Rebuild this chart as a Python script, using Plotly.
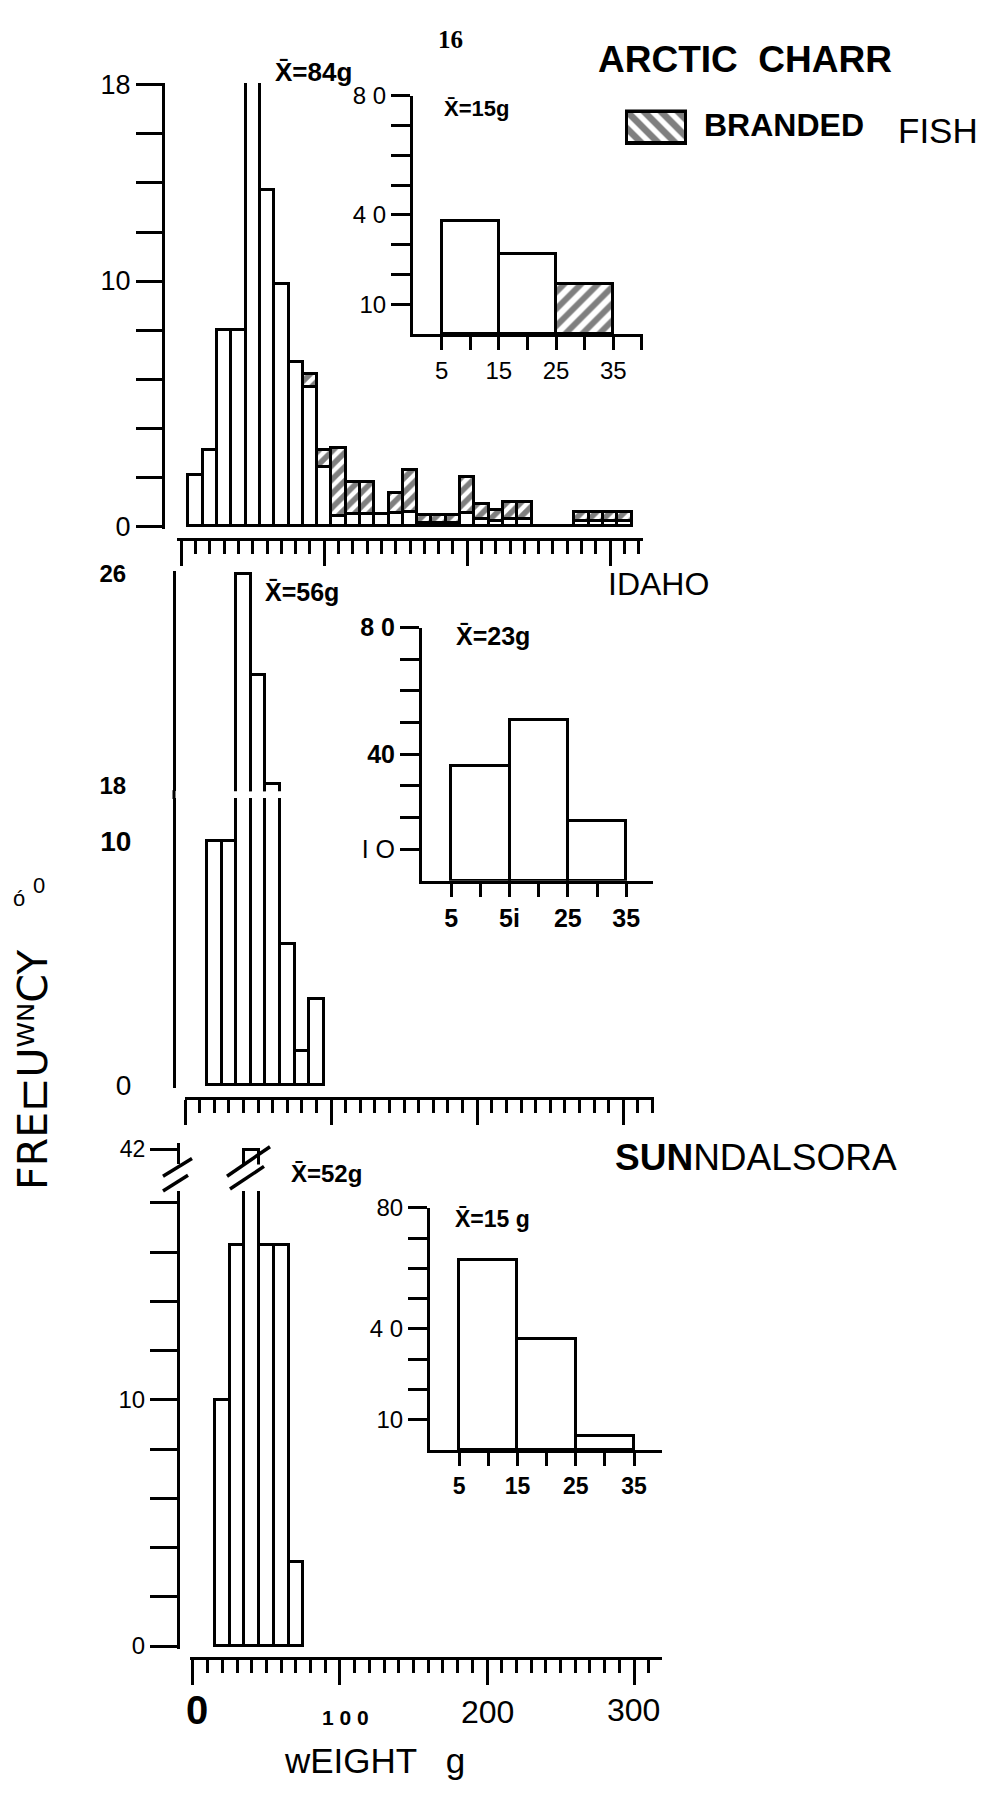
import plotly.graph_objects as go

W, H = 990, 1796


def fx(x):
    return x / W


def fy(y):
    return 1 - y / H


# ---------------- data ----------------
# Arctic charr main histogram (10 g classes, centres in g)
arctic_bins = [10, 20, 30, 40, 50, 60, 70, 80, 90, 100, 110, 120, 130, 140, 150, 160,
               170, 180, 190, 200, 210, 220, 230, 240, 250, 260, 270, 280, 290, 300, 310]
arctic_unbranded = [2.1, 3.1, 8.0, 8.0, 24.0, 13.7, 9.9, 6.7, 5.7, 2.4, 0.4, 0.5, 0.5, 0.5, 0.55, 0.6,
                    0.15, 0.15, 0.15, 0.55, 0.3, 0.2, 0.3, 0.3, 0, 0, 0, 0.2, 0.2, 0.2, 0.2]
arctic_branded = [0, 0, 0, 0, 0, 0, 0, 0, 0.5, 0.7, 2.8, 1.3, 1.3, 0, 0.8, 1.7,
                  0.3, 0.3, 0.3, 1.45, 0.6, 0.45, 0.7, 0.7, 0, 0, 0, 0.4, 0.4, 0.4, 0.4]
# Arctic charr inset (0+ fish, 10 g classes)
inset_bins = [10, 20, 30]
arctic_inset_unbranded = [38, 27, 0]
arctic_inset_branded = [0, 0, 17]

# Idaho
idaho_bins = [20, 30, 40, 50, 60, 70, 80, 90]
idaho_freq = [10, 10, 26, 22.2, 18.1, 5.8, 1.4, 3.5]
idaho_inset_freq = [36.5, 51, 19]

# Sunndalsora
sunn_bins = [20, 30, 40, 50, 60, 70]
sunn_freq = [10, 16.3, 42, 16.3, 16.3, 3.4]
sunn_inset_freq = [62.9, 36.6, 4.6]

# tick labels
main_y_vals = [0, 2, 4, 6, 8, 10, 12, 14, 16, 18]
arctic_y_text = ["0", "", "", "", "", "10", "", "", "", "18"]
sunn_y_text = ["0", "", "", "", "", "10", "", "", "", ""]
inset_y_vals = [10, 20, 30, 40, 50, 60, 70, 80]
inset_y_text = ["10", "", "", "4 0", "", "", "", "8 0"]
idaho_inset_y_text = ["I O", "", "", "<b>40</b>", "", "", "", "<b>8 0</b>"]
sunn_inset_y_text = ["10", "", "", "4 0", "", "", "", "80"]
inset_x_vals = [5, 10, 15, 20, 25, 30, 35, 40]
inset_x_text = ["5", "", "15", "", "25", "", "35", ""]
idaho_inset_x_text = ["<b>5</b>", "", "<b>5i</b>", "", "<b>25</b>", "", "<b>35</b>", ""]
sunn_inset_x_text = ["<b>5</b>", "", "<b>15</b>", "", "<b>25</b>", "", "<b>35</b>", ""]

FONT = "Liberation Sans, Arial, DejaVu Sans"
LINE = dict(color="black", width=2.7)
HATCH = dict(shape="/", fgcolor="black", bgcolor="white", size=10, solidity=0.55)


def bar(x, y, xa, ya, hatch=None, width=10):
    marker = dict(color="white", line=LINE)
    if hatch:
        marker["pattern"] = hatch
    return go.Bar(x=x, y=y, xaxis=xa, yaxis=ya, width=width, marker=marker,
                  hoverinfo="skip", showlegend=False)


fig = go.Figure()
# panel 1
fig.add_trace(bar(arctic_bins, arctic_unbranded, "x", "y"))
fig.add_trace(bar(arctic_bins, arctic_branded, "x", "y", hatch=HATCH))
fig.add_trace(bar(inset_bins, arctic_inset_unbranded, "x2", "y2"))
fig.add_trace(bar(inset_bins, arctic_inset_branded, "x2", "y2", hatch=dict(HATCH, size=12, solidity=0.5)))
# panel 2 (broken axis: lower and upper parts)
fig.add_trace(bar(idaho_bins, idaho_freq, "x3", "y3"))
fig.add_trace(bar(idaho_bins, idaho_freq, "x3", "y4"))
fig.add_trace(bar(inset_bins, idaho_inset_freq, "x5", "y5"))
# panel 3
fig.add_trace(bar(sunn_bins, sunn_freq, "x6", "y6"))
fig.add_trace(bar(sunn_bins, sunn_freq, "x6", "y7"))
fig.add_trace(bar(inset_bins, sunn_inset_freq, "x8", "y8"))
# legend swatch
fig.add_trace(go.Bar(x=[0], y=[1], xaxis="x9", yaxis="y9", width=1,
                     marker=dict(color="white", line=dict(color="black", width=3.5),
                                 pattern=dict(shape="\\", fgcolor="black", bgcolor="white",
                                              size=12, solidity=0.55)),
                     hoverinfo="skip", showlegend=False))

common = dict(showgrid=False, zeroline=False, fixedrange=True, showline=True,
              linecolor="black", linewidth=3, tickcolor="black", tickwidth=2.7)


def main_x(d0, d1, rng, pos):
    return dict(common, domain=[fx(d0), fx(d1)], range=rng, anchor="free", position=fy(pos),
                ticks="outside", tickmode="linear", tick0=0, dtick=100, ticklen=25,
                showticklabels=False,
                minor=dict(ticks="outside", tick0=0, dtick=10, ticklen=13, tickwidth=2.7,
                           tickcolor="black", showgrid=False))


def main_y(bot, top, rng, pos, vals, text, ticklen=24, size=26, tickcolor="black"):
    return dict(common, domain=[fy(bot), fy(top)], range=rng, anchor="free", position=fx(pos),
                ticks="outside", ticklen=ticklen, tickcolor=tickcolor, tickmode="array",
                tickvals=vals, ticktext=text, tickfont=dict(family=FONT, size=size, color="black"))


def inset_x(d0, d1, rng, anchor, text, size=24):
    return dict(common, domain=[fx(d0), fx(d1)], range=rng, anchor=anchor,
                ticks="outside", ticklen=13, tickmode="array", tickvals=inset_x_vals,
                ticktext=text, tickfont=dict(family=FONT, size=size, color="black"))


def inset_y(bot, top, anchor, text, size=24):
    return dict(common, domain=[fy(bot), fy(top)], range=[0, 80], anchor=anchor,
                ticks="outside", ticklen=19, tickmode="array", tickvals=inset_y_vals,
                ticktext=text, tickfont=dict(family=FONT, size=size, color="black"))


layout = dict(
    width=W, height=H, margin=dict(l=0, r=0, t=0, b=0, pad=0),
    paper_bgcolor="white", plot_bgcolor="rgba(0,0,0,0)",
    barmode="stack", bargap=0, showlegend=False,
    font=dict(family=FONT, color="black"),
    # panel 1
    xaxis=main_x(177, 643, [-3, 323], 533),
    yaxis=main_y(523, 70, [-0.12, 18.08], 163, main_y_vals, arctic_y_text, ticklen=26, size=27),
    xaxis2=inset_x(413, 643, [0, 40.2], "y2", inset_x_text),
    yaxis2=inset_y(325, 83, "x2", inset_y_text),
    # panel 2
    xaxis3=main_x(185, 654, [0, 321], 1101),
    yaxis3=main_y(1090, 796, [-0.12, 11.78], 174, [0, 10], ["0", "<b>10</b>"],
                  ticklen=36, size=28, tickcolor="rgba(0,0,0,0)"),
    yaxis4=main_y(789, 565, [17.8, 26.13], 174, [18, 26], ["<b>18</b>", "<b>26</b>"],
                  ticklen=42, size=24, tickcolor="rgba(0,0,0,0)"),
    xaxis5=inset_x(422, 653, [0, 39.6], "y5", idaho_inset_x_text, size=25),
    yaxis5=inset_y(880, 623, "x5", idaho_inset_y_text, size=25),
    # panel 3
    xaxis6=main_x(190, 662, [-2, 319], 1669),
    yaxis6=main_y(1660, 1195, [-0.12, 18.48], 178, main_y_vals, sunn_y_text, ticklen=27, size=24),
    yaxis7=main_y(1168, 1146, [41.3, 42.3], 178, [42], ["42"], ticklen=27, size=23),
    xaxis8=inset_x(430, 662, [0, 39.8], "y8", sunn_inset_x_text, size=23),
    yaxis8=inset_y(1458, 1212, "x8", sunn_inset_y_text, size=24),
    # legend swatch
    xaxis9=dict(domain=[fx(625), fx(688)], range=[-0.53, 0.53], visible=False, fixedrange=True),
    yaxis9=dict(domain=[fy(133), fy(97)], range=[-0.05, 1.05], visible=False, fixedrange=True),
)
fig.update_layout(**layout)


# ---------- text ----------
def ann(text, x, y, size, family=FONT, angle=0, xanchor="center"):
    fig.add_annotation(text=text, x=fx(x), y=fy(y), xref="paper", yref="paper",
                       showarrow=False, textangle=angle, xanchor=xanchor, yanchor="middle",
                       font=dict(family=family, size=size, color="black"))


XBAR = "X\u0304"
ann("<b>16</b>", 450, 26, 25, family="Liberation Serif, DejaVu Serif")
ann("<b>ARCTIC  CHARR</b>", 745, 46, 37)
ann("<b>BRANDED</b>", 784, 113, 32)
ann("FISH", 938, 118, 35)
ann("IDAHO", 658, 579, 32)
ann("<b>SUN</b>NDALSORA", 756, 1161, 37)

ann("<b>" + XBAR + "=84g</b>", 313, 59, 26)
ann("<b>" + XBAR + "=15g</b>", 476, 96, 22)
ann("<b>" + XBAR + "=56g</b>", 302, 587, 25)
ann("<b>" + XBAR + "=23g</b>", 493, 632, 25)
ann("<b>" + XBAR + "=52g</b>", 326, 1177, 24)
ann("<b>" + XBAR + "=15 g</b>", 492, 1223, 23)

ann("FRE\u228fU\u1d42\u1d3aCY", 33, 1072, 41, family="DejaVu Sans, Liberation Sans", angle=-90)
ann("\u00f3", 19, 898, 22)
ann("0", 39, 885, 22)

ann("<b>0</b>", 197, 1722, 40)
ann("<b>1 0 0</b>", 345, 1729, 21)
ann("200", 487, 1724, 32)
ann("300", 633, 1722, 32)
ann("wEIGHT   g", 374, 1773, 35)


# ---------- axis-break decorations ----------
def seg(x0, y0, x1, y1, w=3):
    fig.add_shape(type="line", xref="paper", yref="paper", x0=fx(x0), y0=fy(y0),
                  x1=fx(x1), y1=fy(y1), line=dict(color="black", width=w))


seg(174, 788, 174, 797, 3)
seg(163, 1180, 192, 1162, 3.5)
seg(163, 1195, 188, 1179, 3.5)
seg(227, 1180, 270, 1150, 3.5)
seg(230, 1193, 264, 1170, 3.5)

fig.write_html("out.html")
